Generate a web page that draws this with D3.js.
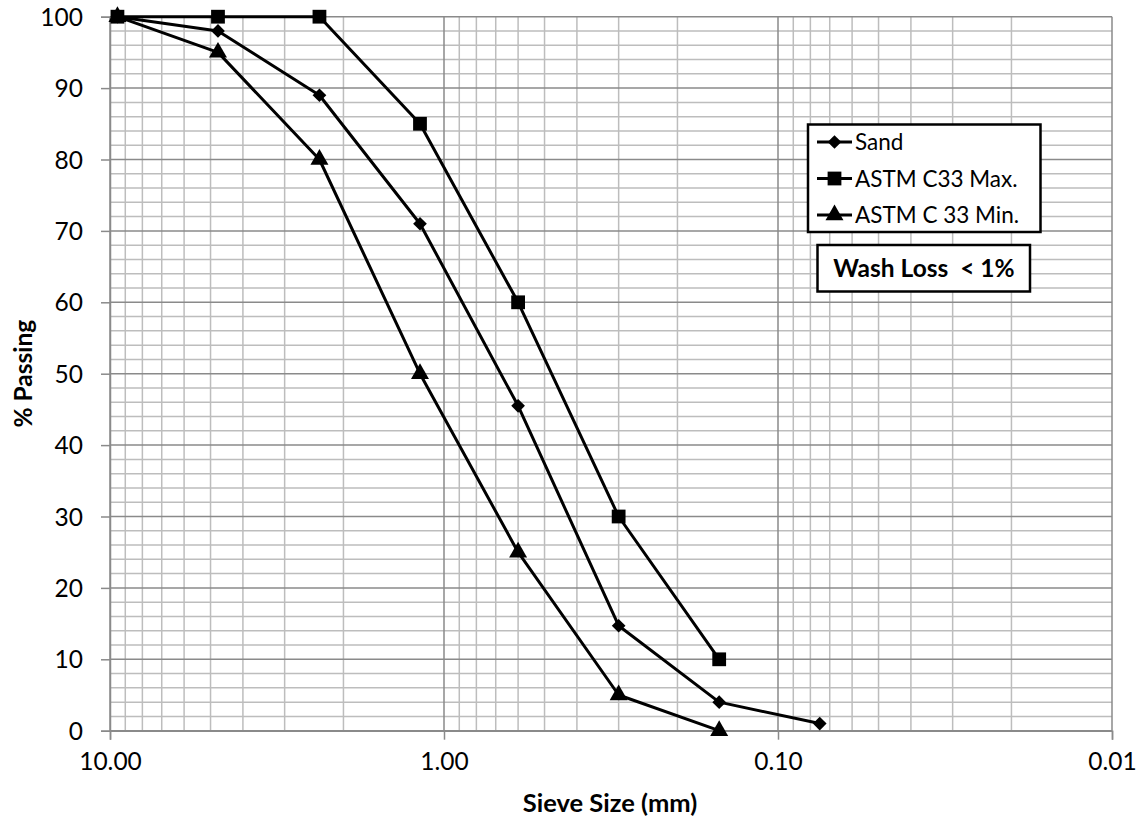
<!DOCTYPE html>
<html>
<head>
<meta charset="utf-8">
<script src="https://cdn.jsdelivr.net/npm/d3@7"></script>
<style>
  html, body { margin: 0; padding: 0; background: #fff; }
  svg { display: block; font-family: Lato, "Open Sans", sans-serif; }
</style>
</head>
<body>
<svg id="chart" width="1143" height="824"></svg>
<script>
// Sieve sizes (mm) and percent passing for each gradation curve
const sieveSizes = [9.5, 4.75, 2.36, 1.18, 0.6, 0.3, 0.15, 0.075];
const sandPassing = [100, 98, 89, 71, 45.5, 14.7, 4, 1];
const astmMaxPassing = [100, 100, 100, 85, 60, 30, 10];
const astmMinPassing = [100, 95, 80, 50, 25, 5, 0];
const xTickValues = [10, 1, 0.1, 0.01];
const yTickValues = [0, 10, 20, 30, 40, 50, 60, 70, 80, 90, 100];
const seriesNames = ["Sand", "ASTM C33 Max.", "ASTM C 33 Min."];
const noteText = "Wash Loss  < 1%";

const svg = d3.select("#chart");
const plot = { left: 110, right: 1112, top: 16.7, bottom: 730.7 };

const x = d3.scaleLog().domain([10, 0.01]).range([plot.left, plot.right]);
const y = d3.scaleLinear().domain([0, 100]).range([plot.bottom, plot.top]);

// Minor / major gridlines
const minorX = [];
[1, 0.1, 0.01].forEach(d => { for (let k = 2; k <= 9; k++) minorX.push(+(d * k).toPrecision(3)); });
const minorY = d3.range(0, 101, 2).filter(v => v % 10 !== 0);

const grid = svg.append("g");
grid.selectAll(".minx").data(minorX).join("line")
  .attr("x1", d => x(d)).attr("x2", d => x(d))
  .attr("y1", plot.top).attr("y2", plot.bottom)
  .attr("stroke", "#bdbdbd").attr("stroke-width", 1.5);
grid.selectAll(".miny").data(minorY).join("line")
  .attr("x1", plot.left).attr("x2", plot.right)
  .attr("y1", d => y(d)).attr("y2", d => y(d))
  .attr("stroke", "#bdbdbd").attr("stroke-width", 1.5);
grid.selectAll(".majx").data(xTickValues).join("line")
  .attr("x1", d => x(d)).attr("x2", d => x(d))
  .attr("y1", plot.top).attr("y2", plot.bottom)
  .attr("stroke", "#8a8a8a").attr("stroke-width", 1.5);
grid.selectAll(".majy").data(yTickValues).join("line")
  .attr("x1", plot.left).attr("x2", plot.right)
  .attr("y1", d => y(d)).attr("y2", d => y(d))
  .attr("stroke", "#8a8a8a").attr("stroke-width", 1.5);

// Axes
const xAxis = svg.append("g")
  .attr("transform", `translate(0,${plot.bottom})`)
  .call(d3.axisBottom(x).tickValues(xTickValues).tickFormat(d3.format(".2f")).tickSize(9).tickPadding(13));
const yAxis = svg.append("g")
  .attr("transform", `translate(${plot.left},0)`)
  .call(d3.axisLeft(y).tickValues(yTickValues).tickSize(9).tickPadding(18));
[xAxis, yAxis].forEach(a => {
  a.select(".domain").attr("stroke", "#8a8a8a").attr("stroke-width", 1.5);
  a.selectAll(".tick line").attr("stroke", "#8a8a8a").attr("stroke-width", 1.5);
  a.selectAll(".tick text").attr("font-size", 24.5).attr("fill", "#000")
    .attr("font-family", "Lato, 'Open Sans', sans-serif");
});
yAxis.selectAll(".tick text").attr("dy", "0.35em");
xAxis.selectAll(".tick text").attr("dy", "0.71em");

// Axis titles
svg.append("text")
  .attr("x", 610).attr("y", 812)
  .attr("text-anchor", "middle").attr("font-weight", "bold").attr("font-size", 25.5)
  .text("Sieve Size (mm)");
svg.append("text")
  .attr("transform", `translate(32,${(plot.top + plot.bottom) / 2}) rotate(-90)`)
  .attr("text-anchor", "middle").attr("font-weight", "bold").attr("font-size", 24.5)
  .text("% Passing");

// Marker shapes
const markerSymbols = [
  d3.symbol().type(d3.symbolDiamond2).size(120),
  d3.symbol().type(d3.symbolSquare).size(190),
  d3.symbol().type(d3.symbolTriangle).size(140)
];
const seriesValues = [sandPassing, astmMaxPassing, astmMinPassing];

const line = d3.line().x(d => x(d[0])).y(d => y(d[1]));

seriesValues.forEach((vals, i) => {
  const pts = vals.map((v, j) => [sieveSizes[j], v]);
  const g = svg.append("g");
  g.append("path").datum(pts)
    .attr("d", line).attr("fill", "none")
    .attr("stroke", "#000").attr("stroke-width", 3).attr("stroke-linejoin", "round");
  g.selectAll("path.m").data(pts).join("path")
    .attr("class", "m")
    .attr("d", markerSymbols[i])
    .attr("transform", d => `translate(${x(d[0])},${y(d[1])})`)
    .attr("fill", "#000");
});

// Legend
const legend = svg.append("g");
legend.append("rect")
  .attr("x", 808).attr("y", 124.5).attr("width", 232.5).attr("height", 107.5)
  .attr("fill", "#fff").attr("stroke", "#000").attr("stroke-width", 2.5);
seriesNames.forEach((name, i) => {
  const cy = 142 + i * 36.5;
  legend.append("line")
    .attr("x1", 817).attr("x2", 852).attr("y1", cy).attr("y2", cy)
    .attr("stroke", "#000").attr("stroke-width", 3);
  legend.append("path")
    .attr("d", markerSymbols[i])
    .attr("transform", `translate(834.5,${cy})`).attr("fill", "#000");
  legend.append("text")
    .attr("x", 855).attr("y", cy).attr("dy", "0.36em")
    .attr("font-size", 22.5).text(name);
});

// Note box
const note = svg.append("g");
note.append("rect")
  .attr("x", 817.5).attr("y", 245).attr("width", 212.5).attr("height", 46.5)
  .attr("fill", "#fff").attr("stroke", "#000").attr("stroke-width", 2.5);
note.append("text")
  .attr("x", 924).attr("y", 268).attr("dy", "0.36em")
  .attr("text-anchor", "middle").attr("font-weight", "bold").attr("font-size", 24.5)
  .attr("xml:space", "preserve").style("white-space", "pre")
  .text(noteText);
</script>
</body>
</html>
